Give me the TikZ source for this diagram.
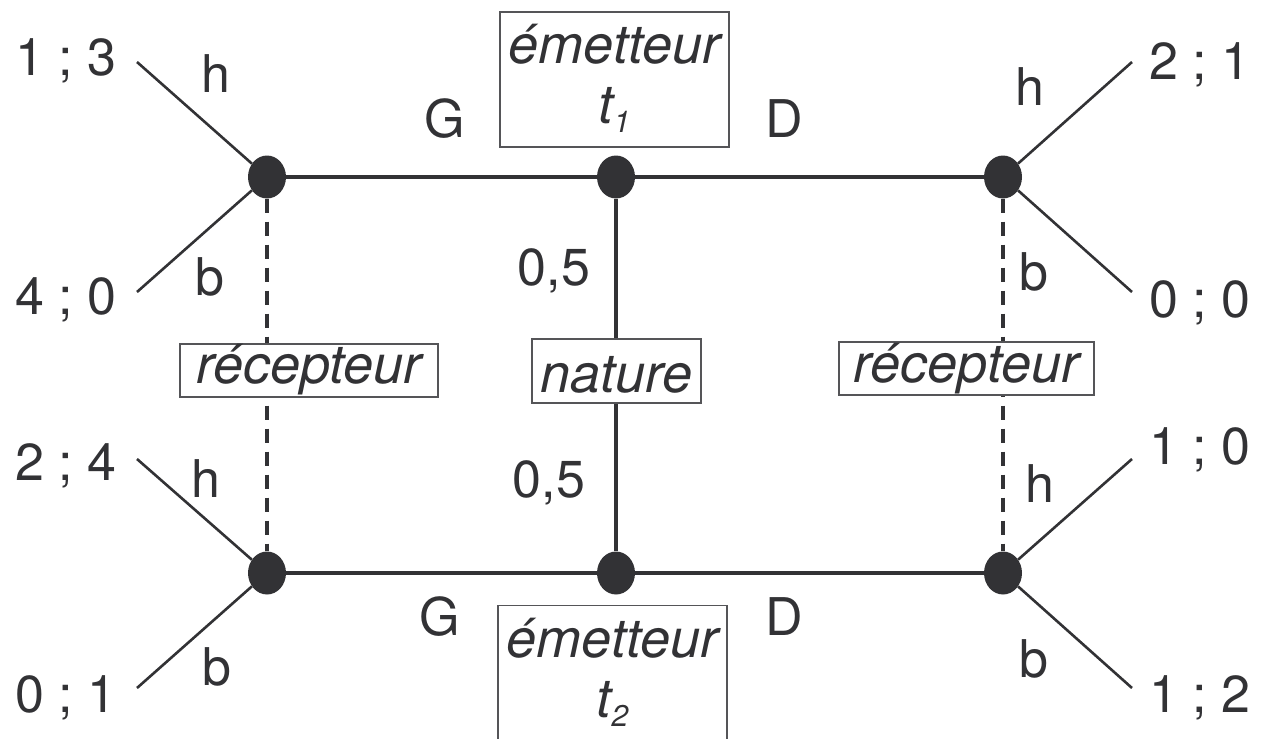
\documentclass[tikz,border=0pt]{standalone}
\usepackage{fontspec}
\setmainfont{TeX Gyre Heros}
\usetikzlibrary{shapes.geometric}
\definecolor{ink}{RGB}{50,50,53}
\definecolor{framegray}{RGB}{85,85,88}
\newcommand{\mysub}[1]{\raisebox{-9pt}{\fontsize{30}{30}\selectfont #1}}
\begin{document}
\begin{tikzpicture}[x=1pt,y=-1pt,
  gdot/.style={ellipse,fill=ink,draw=none,minimum width=38pt,minimum height=43pt,inner sep=0pt},
  mainline/.style={draw=ink,line width=4pt},
  branch/.style={draw=ink,line width=2.6pt},
  infoline/.style={draw=ink,line width=3.2pt,dash pattern=on 14pt off 9pt},
  tbox/.style={draw=framegray,line width=1.5pt,fill=white,inner sep=0pt,text=ink,font=\fontsize{54}{60}\selectfont\itshape},
  txt/.style={text=ink,anchor=base,inner sep=0pt,font=\fontsize{52}{60}\selectfont},
  itxt/.style={txt,font=\fontsize{54}{60}\selectfont\itshape}]
\useasboundingbox (0,0) rectangle (1262,739);
\clip (0,0) rectangle (1262,739);
% decision nodes
\node[gdot] (lt) at (267,177) {};
\node[gdot] (ct) at (616,177) {};
\node[gdot] (rt) at (1003,177) {};
\node[gdot] (lb) at (267,573) {};
\node[gdot] (cb) at (616,573) {};
\node[gdot] (rb) at (1003,573) {};
% branch ends
\coordinate (lt1) at (137,62);
\coordinate (lt2) at (137,292);
\coordinate (lb1) at (137,459);
\coordinate (lb2) at (137,688);
\coordinate (rt1) at (1132,62);
\coordinate (rt2) at (1132,292);
\coordinate (rb1) at (1132,459);
\coordinate (rb2) at (1132,688);
% information sets
\draw[infoline] (lt) -- (lb);
\draw[infoline] (rt) -- (rb);
% main lines
\draw[mainline] (lt) -- (ct);
\draw[mainline] (ct) -- (rt);
\draw[mainline] (lb) -- (cb);
\draw[mainline] (cb) -- (rb);
\draw[mainline] (ct) -- (cb);
% branches
\draw[branch] (lt) -- (lt1);
\draw[branch] (lt) -- (lt2);
\draw[branch] (lb) -- (lb1);
\draw[branch] (lb) -- (lb2);
\draw[branch] (rt) -- (rt1);
\draw[branch] (rt) -- (rt2);
\draw[branch] (rb) -- (rb1);
\draw[branch] (rb) -- (rb2);
% boxes
\node[tbox,minimum width=258pt,minimum height=53pt,text height=36pt,text depth=10pt] (recl) at (309,370.5) {récepteur};
\node[tbox,minimum width=255pt,minimum height=53pt,text height=36pt,text depth=8pt] (recr) at (966.5,368.5) {récepteur};
\node[tbox,minimum width=169pt,minimum height=64pt,text height=42pt,text depth=0pt] (nat) at (616.5,371) {nature};
\node[tbox,minimum width=229pt,minimum height=135pt] (em1) at (614.5,79.5) {};
\node[itxt] (em1a) at (614.5,63) {émetteur};
\node[itxt] (em1b) at (614.5,123) {t\mysub{1}};
\node[tbox,minimum width=229pt,minimum height=135pt] (em2) at (612.5,673) {};
\node[itxt] (em2a) at (612.5,657) {émetteur};
\node[itxt] (em2b) at (612.5,717) {t\mysub{2}};
% payoffs
\node[txt] (p1) at (66,75) {1 ; 3};
\node[txt] (p2) at (66,314) {4 ; 0};
\node[txt] (p3) at (66,480) {2 ; 4};
\node[txt] (p4) at (66,712) {0 ; 1};
\node[txt] (p5) at (1200,79) {2 ; 1};
\node[txt] (p6) at (1200,317) {0 ; 0};
\node[txt] (p7) at (1200,464) {1 ; 0};
\node[txt] (p8) at (1200,712) {1 ; 2};
% action labels
\node[txt] (h1) at (216,92) {h};
\node[txt] (b1) at (210,295) {b};
\node[txt] (h2) at (206,497) {h};
\node[txt] (b2) at (217,685) {b};
\node[txt] (h3) at (1030,105) {h};
\node[txt] (b3) at (1034,290) {b};
\node[txt] (h4) at (1040,502) {h};
\node[txt] (b4) at (1034,677) {b};
\node[txt] (g1) at (445,137) {G};
\node[txt] (d1) at (784,137) {D};
\node[txt] (g2) at (440,635) {G};
\node[txt] (d2) at (784,635) {D};
\node[txt] (n1) at (554,285) {0,5};
\node[txt] (n2) at (549,497) {0,5};
\end{tikzpicture}
\end{document}
